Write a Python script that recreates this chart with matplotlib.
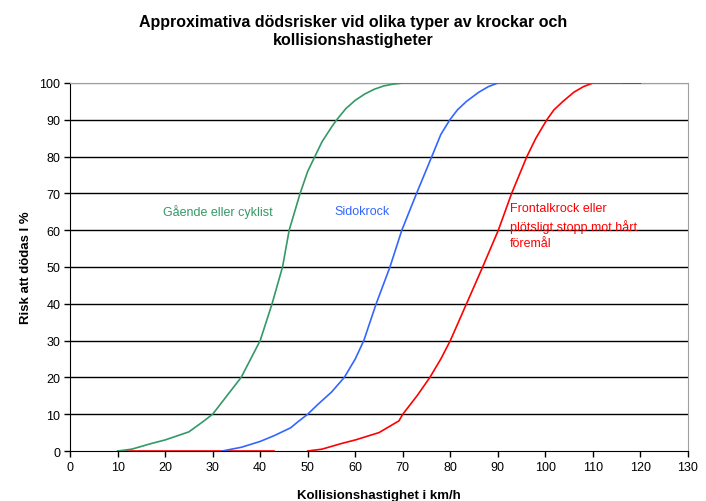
import matplotlib
matplotlib.use('Agg')
import matplotlib.pyplot as plt
import numpy as np

plt.rcParams['font.family'] = ['Liberation Sans', 'DejaVu Sans']

# speed (km/h) and risk (%)
green_x = [10, 13, 17, 20, 25, 28, 30, 33, 36, 38, 40, 42.5, 44.7, 46.1, 48.4,
           50, 51.5, 53, 55, 56.1, 58, 60, 62, 64, 66, 68, 70, 90]
green_y = [0, 0.5, 2, 3, 5.2, 8, 10, 15, 20, 25, 30, 40, 50, 60, 70,
           76, 80, 84, 88, 90, 93, 95.3, 97, 98.3, 99.2, 99.7, 100, 100]

blue_x = [32, 36, 40, 43, 46.4, 48, 50, 52, 55, 57.7, 60, 61.8, 64.4, 67.3,
          69.8, 72.9, 76.1, 78, 79.9, 81.5, 83.4, 86, 88, 90, 116]
blue_y = [0, 1, 2.6, 4.2, 6.3, 8, 10, 12.5, 16, 20, 25, 30, 40, 50,
          60, 70, 80, 86, 90, 92.7, 95, 97.5, 99, 100, 100]

red_x = [50, 53, 57, 60, 65, 69.2, 70, 73, 75.7, 78, 80, 83.4, 86.8, 90.1,
         92.9, 96.1, 98, 100.3, 101.8, 103.7, 106, 108, 110, 120]
red_y = [0, 0.5, 2, 3, 5, 8.2, 10, 15, 20, 25, 30, 40, 50, 60,
         70, 80, 85, 90, 92.7, 95, 97.5, 99, 100, 100]
red_base_x = [10, 43]
red_base_y = [0, 0]

labels = ['Gående eller cyklist', 'Sidokrock',
          'Frontalkrock eller\nplötsligt stopp mot hårt\nföremål']

green = '#339966'
blue = '#3366FF'
red = '#FF0000'

fig = plt.figure(figsize=(7.06, 5.02), dpi=100)
ax = fig.add_axes([0.0992, 0.0996, 0.8753, 0.7331])

# grid
for v in range(10, 100, 10):
    ax.axhline(v, color='black', lw=1, zorder=1)
ax.axhline(100, color='#a0a0a0', lw=1, zorder=1)

ax.plot(red_base_x, red_base_y, color=red, lw=1.2, zorder=3)
ax.plot(green_x, green_y, color=green, lw=1.2, zorder=3)
ax.plot(red_x, red_y, color=red, lw=1.2, zorder=3)
ax.plot(blue_x, blue_y, color=blue, lw=1.2, zorder=3)

ax.text(19.6, 65.2, labels[0], color=green, fontsize=9, va='center')
ax.text(55.7, 65.2, labels[1], color=blue, fontsize=9, va='center')
ax.text(92.6, 67.6, labels[2], color=red, fontsize=9, va='top',
        linespacing=1.45)

ax.set_xlim(0, 130)
ax.set_ylim(0, 100)
ax.set_xticks(np.arange(0, 131, 10))
ax.set_yticks(np.arange(0, 101, 10))
ax.tick_params(direction='out', length=4, width=1, labelsize=9,
               colors='black', pad=3)

for s in ['left', 'bottom']:
    ax.spines[s].set_color('black')
for s in ['top', 'right']:
    ax.spines[s].set_color('#a0a0a0')

ax.set_xlabel('Kollisionshastighet i km/h', fontsize=9.5, fontweight='bold',
              labelpad=12)
ax.set_ylabel('Risk att dödas I %', fontsize=9.5, fontweight='bold',
              labelpad=5)

fig.suptitle('Approximativa dödsrisker vid olika typer av krockar och\n'
             'kollisionshastigheter', fontsize=11.5, fontweight='bold',
             y=0.97, x=0.5, linespacing=1.25)

fig.savefig('out.png', dpi=100)
